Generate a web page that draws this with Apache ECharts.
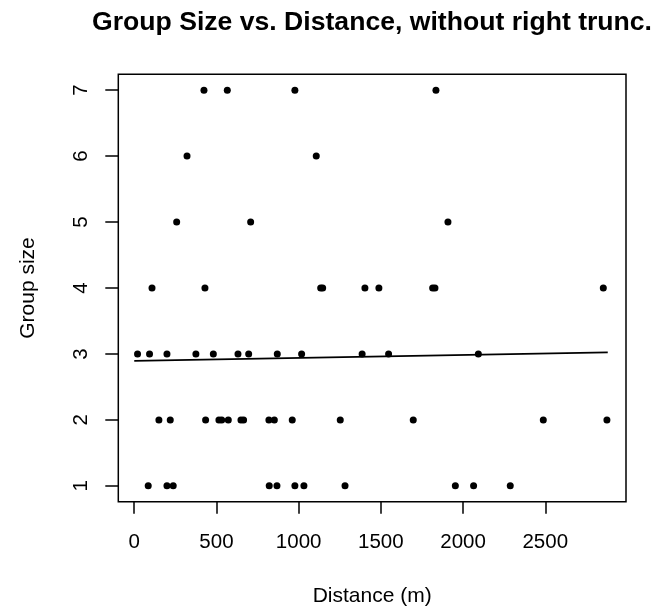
<!DOCTYPE html>
<html>
<head>
<meta charset="utf-8">
<script src="https://cdn.jsdelivr.net/npm/echarts@6/dist/echarts.min.js"></script>
<style>html,body{margin:0;padding:0;background:#fff}#c{width:666px;height:612px}</style>
</head>
<body>
<div id="c"></div>
<script>
var titleText = 'Group Size vs. Distance, without right trunc.';
var xName = 'Distance (m)';
var yName = 'Group size';
var xTicks = [0, 500, 1000, 1500, 2000, 2500];
var yTicks = [1, 2, 3, 4, 5, 6, 7];

var dist7 = [424, 566, 977, 1835];
var dist6 = [321, 1107];
var dist5 = [258, 708, 1908];
var dist4 = [108, 430, 1134, 1146, 1403, 1488, 1815, 1829, 2853];
var dist3 = [20, 93, 199, 375, 481, 631, 696, 870, 1018, 1386, 1547, 2093];
var dist2 = [150, 219, 434, 515, 532, 572, 649, 665, 819, 852, 961, 1253, 1697, 2488, 2875];
var dist1 = [85, 199, 237, 821, 868, 977, 1032, 1282, 1953, 2064, 2287];

var fitX = [0, 2880];
var fitY = [2.895, 3.025];

var groups = [[1, dist1], [2, dist2], [3, dist3], [4, dist4], [5, dist5], [6, dist6], [7, dist7]];
var points = [];
groups.forEach(function (g) { g[1].forEach(function (d) { points.push([d, g[0]]); }); });
var fitLine = fitX.map(function (x, i) { return [x, fitY[i]]; });

var font = 'Liberation Sans, Arial, Helvetica, sans-serif';
var plain = function (v) { return String(v); };
var chart = echarts.init(document.getElementById('c'), null, {renderer: 'canvas'});
chart.setOption({
  animation: false,
  backgroundColor: '#ffffff',
  title: {
    text: titleText, left: 372, textAlign: 'center', top: 9, padding: 0,
    textStyle: {fontFamily: font, fontSize: 26.6, fontWeight: 'bold', color: '#000'}
  },
  grid: {left: 118.3, right: 40, top: 74.3, bottom: 110.3, show: true, borderColor: '#000', borderWidth: 1.5, backgroundColor: 'transparent'},
  xAxis: {
    type: 'value', min: -97, max: 2991, position: 'bottom',
    name: xName, nameLocation: 'middle', nameGap: 84,
    nameTextStyle: {fontFamily: font, fontSize: 21, color: '#000'},
    axisLine: {show: false, onZero: false},
    splitLine: {show: false},
    axisTick: {show: true, inside: false, length: 12, lineStyle: {color: '#000', width: 1.5}, customValues: xTicks},
    axisLabel: {show: true, margin: 30, fontFamily: font, fontSize: 20.5, color: '#000', customValues: xTicks, formatter: plain}
  },
  yAxis: {
    type: 'value', min: 0.76, max: 7.24, position: 'left',
    name: yName, nameLocation: 'middle', nameGap: 80, nameRotate: 90,
    nameTextStyle: {fontFamily: font, fontSize: 21, color: '#000'},
    axisLine: {show: false, onZero: false},
    splitLine: {show: false},
    axisTick: {show: true, inside: false, length: 13, lineStyle: {color: '#000', width: 1.5}, customValues: yTicks},
    axisLabel: {show: true, rotate: 90, margin: 26, fontFamily: font, fontSize: 20.5, color: '#000', customValues: yTicks, formatter: plain}
  },
  series: [
    {type: 'scatter', data: points, symbol: 'circle', symbolSize: 7, itemStyle: {color: '#000', opacity: 1}, z: 3},
    {type: 'line', data: fitLine, showSymbol: false, lineStyle: {color: '#000', width: 1.8}, z: 2}
  ]
});
</script>
</body>
</html>
